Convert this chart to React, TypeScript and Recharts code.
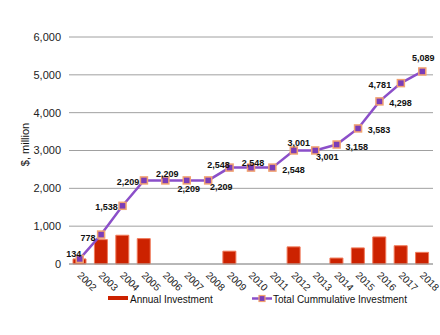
import React from "react"
import { Bar, ComposedChart, Line, XAxis, YAxis, CartesianGrid, Legend, LabelList } from "recharts"

const years = ["2002", "2003", "2004", "2005", "2006", "2007", "2008", "2009", "2010", "2011", "2012", "2013", "2014", "2015", "2016", "2017", "2018"]
const annualInvestment = [134, 644, 760, 671, 0, 0, 0, 339, 0, 0, 453, 0, 157, 425, 715, 483, 308]
const cumulativeInvestment = [134, 778, 1538, 2209, 2209, 2209, 2209, 2548, 2548, 2548, 3001, 3001, 3158, 3583, 4298, 4781, 5089]
const yTicks = [0, 1000, 2000, 3000, 4000, 5000, 6000]

// where each point label sits, relative to its marker (label centre)
const labelOffsets: [number, number][] = [
  [-6, -5], [-13, 3], [-16, 1], [-16, 2], [2, -6], [2, 9], [13, 7], [-11, -3], [2, -5],
  [21, 2], [5, -7], [12, 7], [20, 2], [21, 2], [21, 2], [-21, 2], [1, -13],
]

const data = years.map((year, i) => ({
  year,
  annual: annualInvestment[i],
  total: cumulativeInvestment[i],
}))

const BAR = "#cc2200"
const BAR_EDGE = "#f07a5a"
const LINE = "#8b4fc9"
const DOT = "#7a3db8"
const DOT_EDGE = "#f2a271"
const fmt = (v: number) => v.toLocaleString("en-US")

const XTick = ({ x, y, payload }: any) => (
  <g transform={`translate(${x - 3},${y + 12})`}>
    <text transform="rotate(45)" textAnchor="start" fontSize={10} fill="#222" fontFamily="Liberation Sans, Arial, sans-serif">
      {payload.value}
    </text>
  </g>
)

const SquareDot = ({ cx, cy }: any) => (
  <rect x={cx - 3.5} y={cy - 3.5} width={7} height={7} fill={DOT} stroke={DOT_EDGE} strokeWidth={1.5} />
)

const PointLabel = ({ x, y, index, value }: any) => {
  const [dx, dy] = labelOffsets[index] || [0, -8]
  return (
    <text
      x={x + dx}
      y={y + dy}
      textAnchor="middle"
      dominantBaseline="central"
      fontSize={9}
      fontWeight="bold"
      fill="#111"
      fontFamily="Liberation Sans, Arial, sans-serif"
    >
      {fmt(value)}
    </text>
  )
}

const ChartLegend = () => (
  <svg width={440} height={20} style={{ display: "block" }}>
    <g fontSize={10} fill="#111" fontFamily="Liberation Sans, Arial, sans-serif">
      <rect x={108} y={6} width={20} height={4} fill={BAR} />
      <text x={130} y={13}>Annual Investment</text>
      <line x1={252} x2={272} y1={8.5} y2={8.5} stroke={LINE} strokeWidth={2.5} />
      <rect x={259} y={5.5} width={6} height={6} fill={DOT} stroke={DOT_EDGE} strokeWidth={1.2} />
      <text x={273} y={13}>Total Cummulative Investment</text>
    </g>
  </svg>
)

export default function App() {
  return (
    <div style={{ position: "absolute", left: 0, top: 0, background: "#fff" }}>
      <ComposedChart width={440} height={335} data={data} margin={{ top: 37, right: 7, left: 0, bottom: 25 }}>
        <CartesianGrid vertical={false} stroke="#a0a0a0" strokeWidth={1} />
        <XAxis
          dataKey="year"
          height={26}
          interval={0}
          tick={<XTick />}
          tickLine={false}
          tickSize={0}
          tickMargin={0}
          axisLine={{ stroke: "#a0a0a0" }}
        />
        <YAxis
          width={69}
          domain={[0, 6000]}
          ticks={yTicks}
          tickFormatter={fmt}
          tickLine={false}
          axisLine={false}
          tick={{ fontSize: 11, fill: "#222", fontFamily: "Liberation Sans, Arial, sans-serif" }}
          label={({ viewBox }: any) => (
            <text
              transform={`translate(${viewBox.x + 29},${viewBox.y + viewBox.height / 2 - 6}) rotate(-90)`}
              textAnchor="middle"
              fontSize={11}
              fill="#111"
              fontFamily="Liberation Sans, Arial, sans-serif"
            >
              $, million
            </text>
          )}
        />
        <Legend content={<ChartLegend />} wrapperStyle={{ position: "absolute", top: 290, left: 0, width: 440, height: 20 }} />
        <Bar dataKey="annual" name="Annual Investment" fill={BAR} stroke={BAR_EDGE} strokeWidth={1} barSize={13} isAnimationActive={false} />
        <Line
          dataKey="total"
          name="Total Cummulative Investment"
          stroke={LINE}
          strokeWidth={2.5}
          dot={<SquareDot />}
          activeDot={false}
          isAnimationActive={false}
        >
          <LabelList dataKey="total" content={<PointLabel />} />
        </Line>
      </ComposedChart>
    </div>
  )
}
